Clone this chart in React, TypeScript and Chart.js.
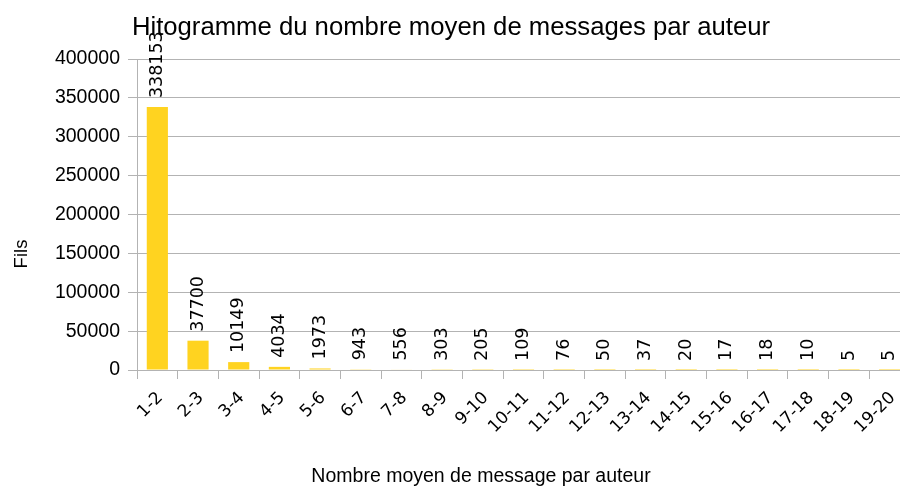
import React, { useEffect, useRef } from "react";
import { Chart, registerables } from "chart.js";

Chart.register(...registerables);

const categories = [
  "1-2", "2-3", "3-4", "4-5", "5-6", "6-7", "7-8", "8-9", "9-10", "10-11",
  "11-12", "12-13", "13-14", "14-15", "15-16", "16-17", "17-18", "18-19", "19-20",
];
const fils = [
  338153, 37700, 10149, 4034, 1973, 943, 556, 303, 205, 109,
  76, 50, 37, 20, 17, 18, 10, 5, 5,
];
const yMin = 0;
const yMax = 400000;
const yStep = 50000;
const chartTitle = "Hitogramme du nombre moyen de messages par auteur";
const xTitle = "Nombre moyen de message par auteur";
const yTitle = "Fils";

const GRID = "#b3b3b3";
const BAR = "#ffd320";
const UPRIGHT = "'Liberation Sans', Arial, sans-serif";
const ROTATED = "'DejaVu Sans', sans-serif";

const valueLabels = {
  id: "valueLabels",
  afterDatasetsDraw(chart: any) {
    const ctx = chart.ctx;
    const meta = chart.getDatasetMeta(0);
    const data = chart.data.datasets[0].data;
    ctx.save();
    ctx.font = `17.5px ${ROTATED}`;
    ctx.fillStyle = "#000";
    ctx.textAlign = "left";
    ctx.textBaseline = "middle";
    meta.data.forEach((bar: any, i: number) => {
      ctx.save();
      ctx.translate(bar.x, bar.y - 9);
      ctx.rotate(-Math.PI / 2);
      ctx.fillText(String(data[i]), 0, 0);
      ctx.restore();
    });
    ctx.restore();
  },
};

const axisTitles = {
  id: "axisTitles",
  afterDraw(chart: any) {
    const ctx = chart.ctx;
    ctx.save();
    ctx.fillStyle = "#000";
    ctx.font = `19.5px ${UPRIGHT}`;
    ctx.textAlign = "center";
    ctx.textBaseline = "alphabetic";
    ctx.fillText(xTitle, 481, 482);
    ctx.font = `18.5px ${UPRIGHT}`;
    ctx.translate(27, 254);
    ctx.rotate(-Math.PI / 2);
    ctx.fillText(yTitle, 0, 0);
    ctx.restore();
  },
};

export default function App() {
  const ref = useRef<HTMLCanvasElement | null>(null);

  useEffect(() => {
    if (!ref.current) return;
    const chart = new Chart(ref.current, {
      type: "bar",
      data: {
        labels: categories,
        datasets: [
          {
            label: yTitle,
            data: fils,
            backgroundColor: BAR,
            borderWidth: 0,
            barPercentage: 0.52,
            categoryPercentage: 1,
          },
        ],
      },
      options: {
        responsive: false,
        animation: false,
        devicePixelRatio: 1,
        layout: { padding: { left: -8, right: 10, top: 0, bottom: 0 } },
        plugins: {
          legend: { display: false },
          tooltip: { enabled: false },
          title: {
            display: true,
            text: chartTitle,
            color: "#000",
            font: { family: UPRIGHT, size: 25.7, weight: "normal" },
            padding: { top: 12, bottom: 16.2 },
          },
        },
        scales: {
          x: {
            grid: {
              display: true,
              drawOnChartArea: false,
              drawTicks: true,
              tickLength: 9,
              color: GRID,
            },
            border: { display: true, color: GRID },
            ticks: {
              color: "#000",
              font: { family: ROTATED, size: 17 },
              minRotation: 45,
              maxRotation: 45,
              autoSkip: false,
              padding: 9,
              labelOffset: 3,
            },
            title: { display: false, text: xTitle },
            afterFit: (scale: any) => {
              scale.height = 118;
            },
          },
          y: {
            min: yMin,
            max: yMax,
            grid: { color: GRID, tickLength: 9, drawTicks: true },
            border: { display: true, color: GRID },
            ticks: {
              stepSize: yStep,
              color: "#000",
              font: { family: UPRIGHT, size: 19.5 },
              padding: 8,
              callback: (v: any) => String(v),
            },
            title: { display: false, text: yTitle },
            afterFit: (scale: any) => {
              scale.width = 145;
            },
          },
        },
      },
      plugins: [valueLabels, axisTitles],
    });
    return () => chart.destroy();
  }, []);

  return (
    <div
      style={{
        position: "fixed",
        left: 0,
        top: 0,
        width: 900,
        height: 488,
        overflow: "hidden",
        background: "#fff",
      }}
    >
      <canvas ref={ref} width={920} height={488} style={{ width: 920, height: 488, display: "block" }} />
    </div>
  );
}
